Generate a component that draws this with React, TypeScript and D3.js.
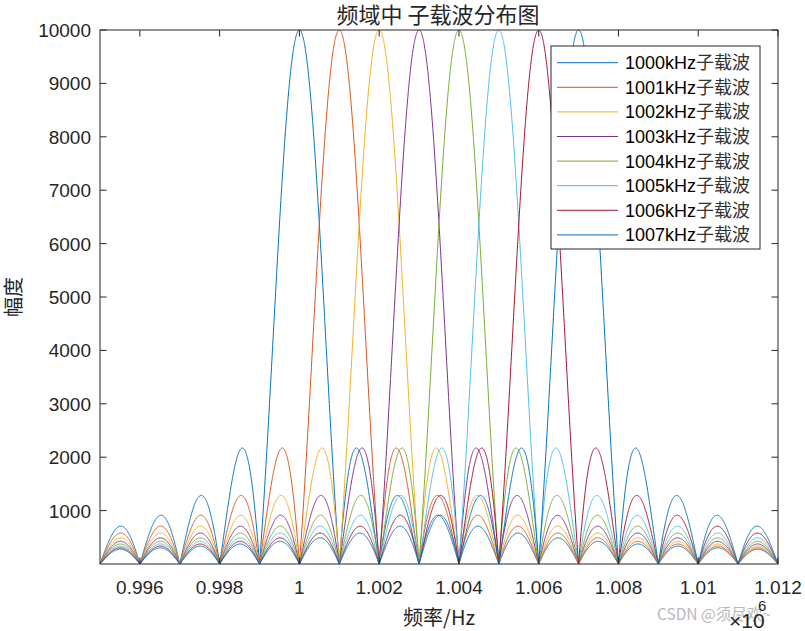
import React from "react";
import * as d3 from "d3";

// ---- data ----
const subcarrierKHz = [1000, 1001, 1002, 1003, 1004, 1005, 1006, 1007];
const peakAmplitude = [10000, 10000, 10000, 10000, 10000, 10000, 10000, 10000];
const seriesLabels = subcarrierKHz.map((f) => `${f}kHz子载波`);
const seriesColors = ["#0072BD", "#D95319", "#EDB120", "#7E2F8E", "#77AC30", "#4DBEEE", "#A2142F", "#0072BD"];
const subcarrierSpacingHz = 1000;
const xDomain = [0.995e6, 1.012e6];
const yDomain = [0, 10000];
const xTicks = [0.996e6, 0.998e6, 1.0e6, 1.002e6, 1.004e6, 1.006e6, 1.008e6, 1.01e6, 1.012e6];
const xTickLabels = ["0.996", "0.998", "1", "1.002", "1.004", "1.006", "1.008", "1.01", "1.012"];
const yTicks = [1000, 2000, 3000, 4000, 5000, 6000, 7000, 8000, 9000, 10000];

const W = 805;
const H = 631;
const M = { left: 100, right: 778, top: 30, bottom: 564 };
const FONT = "'Liberation Sans', Arial, 'Noto Sans CJK SC', sans-serif";
const CJK = "'Noto Sans CJK SC', 'Liberation Sans', sans-serif";
const TXT = "#262626";

// spectrum of a rectangular-pulse subcarrier: |sinc| shape
function spectrum(f: number, fc: number, A: number) {
  const u = (Math.PI * (f - fc)) / subcarrierSpacingHz;
  if (Math.abs(u) < 1e-12) return A;
  return Math.abs((A * Math.sin(u)) / u);
}

export default function App() {
  const x = d3.scaleLinear().domain(xDomain).range([M.left, M.right]);
  const y = d3.scaleLinear().domain(yDomain).range([M.bottom, M.top]);
  const freqs = d3.range(xDomain[0], xDomain[1] + 1, 5);
  const line = d3
    .line<[number, number]>()
    .x((d) => x(d[0]))
    .y((d) => y(d[1]));

  const paths = subcarrierKHz.map((fk, i) =>
    line(freqs.map((f) => [f, spectrum(f, fk * 1000, peakAmplitude[i])] as [number, number]))
  );

  const tickLen = 6.5;
  const legX = 551;
  const legY = 46;
  const legW = 209;
  const legH = 203;
  const rowH = 24.6;

  return (
    <svg width={W} height={H} style={{ position: "absolute", left: 0, top: 0, background: "#fff" }}>
      <rect x={0} y={0} width={W} height={H} fill="#fff" />
      <defs>
        <clipPath id="plotclip">
          <rect x={M.left} y={M.top} width={M.right - M.left} height={M.bottom - M.top} />
        </clipPath>
      </defs>
      <g clipPath="url(#plotclip)">
        {paths.map((p, i) => (
          <path key={i} d={p || ""} fill="none" stroke={seriesColors[i]} strokeWidth={1} />
        ))}
      </g>
      {/* axes box */}
      <rect x={M.left} y={M.top} width={M.right - M.left} height={M.bottom - M.top} fill="none" stroke={TXT} strokeWidth={1} />
      {/* x ticks */}
      {xTicks.map((t, i) => (
        <g key={"xt" + i}>
          <line x1={x(t)} x2={x(t)} y1={M.bottom} y2={M.bottom - tickLen} stroke={TXT} />
          <line x1={x(t)} x2={x(t)} y1={M.top} y2={M.top + tickLen} stroke={TXT} />
          <text x={x(t)} y={594} textAnchor="middle" fontFamily={FONT} fontSize={19} fill={TXT}>
            {xTickLabels[i]}
          </text>
        </g>
      ))}
      {/* y ticks */}
      {yTicks.map((t, i) => (
        <g key={"yt" + i}>
          <line x1={M.left} x2={M.left + tickLen} y1={y(t)} y2={y(t)} stroke={TXT} />
          <line x1={M.right} x2={M.right - tickLen} y1={y(t)} y2={y(t)} stroke={TXT} />
          <text x={91} y={y(t) + 7} textAnchor="end" fontFamily={FONT} fontSize={19} fill={TXT}>
            {t}
          </text>
        </g>
      ))}
      {/* title */}
      <text x={438} y={23} textAnchor="middle" fontFamily={CJK} fontSize={22} fill={TXT}>
        频域中 子载波分布图
      </text>
      {/* axis labels */}
      <text x={439} y={625} textAnchor="middle" fontFamily={CJK} fontSize={20} fill={TXT}>
        频率/Hz
      </text>
      <text
        transform={`translate(21, ${(M.top + M.bottom) / 2}) rotate(-90)`}
        textAnchor="middle"
        fontFamily={CJK}
        fontSize={20}
        fill={TXT}
      >
        幅度
      </text>
      {/* watermark */}
      <text x={657} y={620} fontFamily={CJK} fontSize={15.5} fill="#b9b9b9">
        CSDN @须尽欢~
      </text>
      {/* exponent */}
      <text x={729} y={628} fontFamily={FONT} fontSize={21} fill={TXT}>
        ×10
      </text>
      <text x={758} y={611} fontFamily={FONT} fontSize={15} fill={TXT}>
        6
      </text>
      {/* legend */}
      <rect x={legX} y={legY} width={legW} height={legH} fill="#fff" stroke={TXT} strokeWidth={1} />
      {seriesLabels.map((lab, i) => {
        const cy = legY + 16.7 + i * rowH;
        return (
          <g key={"lg" + i}>
            <line x1={557} x2={618} y1={cy} y2={cy} stroke={seriesColors[i]} strokeWidth={1} />
            <text x={625} y={cy + 6.5} fontFamily={FONT} fontSize={18} fill="#000">
              {lab.replace("子载波", "")}
              <tspan fontFamily={CJK} fill="#333">子载波</tspan>
            </text>
          </g>
        );
      })}
    </svg>
  );
}
